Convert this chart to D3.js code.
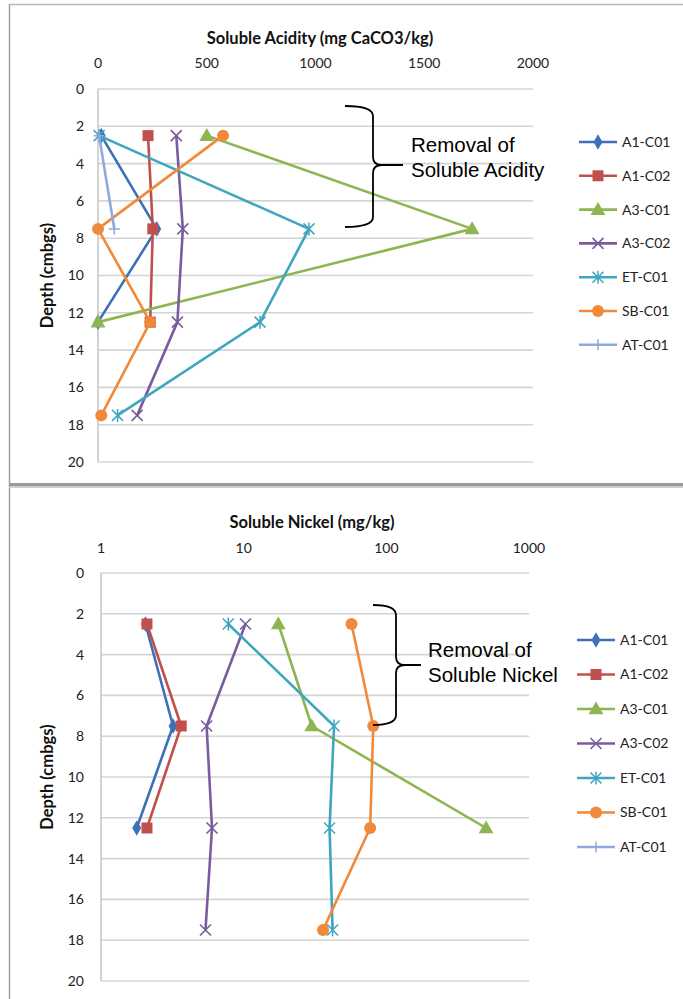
<!DOCTYPE html>
<html><head><meta charset="utf-8">
<script src="https://cdn.jsdelivr.net/npm/d3@7"></script>
<style>body{margin:0;background:#fff}svg{display:block}</style>
</head><body>
<svg id="c" width="683" height="999"></svg>
<script>
// ---- data ----
const seriesNames = ["A1-C01","A1-C02","A3-C01","A3-C02","ET-C01","SB-C01","AT-C01"];
const depths = [2.5, 7.5, 12.5, 17.5];
// Soluble acidity (mg CaCO3/kg) per depth
const acidA1C01 = [15, 270, 0];
const acidA1C02 = [230, 252, 240];
const acidA3C01 = [500, 1720, 0];
const acidA3C02 = [360, 390, 365, 180];
const acidETC01 = [5, 970, 745, 90];
const acidSBC01 = [575, 0, 240, 15];
const acidATC01 = [5, 75];
// Soluble nickel (mg/kg) per depth
const niA1C01 = [2.05, 3.2, 1.78];
const niA1C02 = [2.1, 3.65, 2.1];
const niA3C01 = [17.5, 30, 500];
const niA3C02 = [10.3, 5.5, 6.0, 5.4];
const niETC01 = [7.8, 43, 40, 42];
const niSBC01 = [57, 81, 77, 36];
const niATC01 = [];
const acidTicks = [0, 500, 1000, 1500, 2000];
const nickelTicks = [1, 10, 100, 1000];
const depthTicks = [0,2,4,6,8,10,12,14,16,18,20];

const colors = ["#3D70B6","#C0504D","#8DB550","#7A5C9E","#3FA6C0","#F0893A","#8EAADB"];
const markers = ["diamond","square","triangle","x","star","circle","plus"];

const acidData = [acidA1C01,acidA1C02,acidA3C01,acidA3C02,acidETC01,acidSBC01,acidATC01];
const niData = [niA1C01,niA1C02,niA3C01,niA3C02,niETC01,niSBC01,niATC01];

const svg = d3.select("#c");
const FONT = "Lato, 'Open Sans', sans-serif";

// frame
svg.append("line").attr("x1",9.5).attr("x2",9.5).attr("y1",4).attr("y2",999).attr("stroke","#A0A0A0").attr("stroke-width",1.5);
svg.append("line").attr("x1",9).attr("x2",683).attr("y1",4.5).attr("y2",4.5).attr("stroke","#B8B8B8").attr("stroke-width",1.5);
svg.append("rect").attr("x",9).attr("y",483).attr("width",674).attr("height",3.5).attr("fill","#9A9A9A");
svg.append("line").attr("x1",9).attr("x2",683).attr("y1",487.5).attr("y2",487.5).attr("stroke","#D0D0D0").attr("stroke-width",1);

function marker(g, type, x, y, color){
  if(type==="diamond"){
    g.append("path").attr("d",d3.symbol(d3.symbolDiamond,70)()).attr("transform",`translate(${x},${y})`).attr("fill",color);
  } else if(type==="square"){
    g.append("rect").attr("x",x-5.5).attr("y",y-5.5).attr("width",11).attr("height",11).attr("fill",color);
  } else if(type==="triangle"){
    g.append("path").attr("d",d3.symbol(d3.symbolTriangle,95)()).attr("transform",`translate(${x},${y+1})`).attr("fill",color);
  } else if(type==="circle"){
    g.append("circle").attr("cx",x).attr("cy",y).attr("r",6).attr("fill",color);
  } else if(type==="x"){
    const s=5.5;
    g.append("path").attr("d",`M${x-s},${y-s}L${x+s},${y+s}M${x-s},${y+s}L${x+s},${y-s}`).attr("stroke",color).attr("stroke-width",1.6).attr("fill","none");
  } else if(type==="star"){
    const s=5.5;
    g.append("path").attr("d",`M${x-s},${y-s}L${x+s},${y+s}M${x-s},${y+s}L${x+s},${y-s}M${x},${y-s-1}L${x},${y+s+1}`).attr("stroke",color).attr("stroke-width",1.5).attr("fill","none");
  } else if(type==="plus"){
    const s=5.5;
    g.append("path").attr("d",`M${x-s},${y}L${x+s},${y}M${x},${y-s}L${x},${y+s}`).attr("stroke",color).attr("stroke-width",1.5).attr("fill","none");
  }
}

function panel(cfg){
  const g = svg.append("g");
  const y = d3.scaleLinear().domain([0,20]).range([cfg.y0, cfg.y1]);
  const x = cfg.x;
  // grid
  g.selectAll(".grid").data(depthTicks).join("line")
    .attr("x1",x.range()[0]).attr("x2",x.range()[1])
    .attr("y1",d=>y(d)).attr("y2",d=>y(d))
    .attr("stroke","#D4D4D4").attr("stroke-width",1.6);
  g.append("line").attr("x1",x.range()[0]).attr("x2",x.range()[0]).attr("y1",y(0)).attr("y2",y(20))
    .attr("stroke","#C8C8C8").attr("stroke-width",1.6);
  // y tick labels
  g.selectAll(".yl").data(depthTicks).join("text")
    .attr("x",84).attr("y",d=>y(d)).attr("dy","0.35em").attr("text-anchor","end")
    .attr("font-family",FONT).attr("font-size",14).attr("fill","#222").text(d=>d);
  // x tick labels (top)
  g.selectAll(".xl").data(cfg.ticks).join("text")
    .attr("x",d=>x(d)).attr("y",cfg.tickY).attr("dy","0.35em").attr("text-anchor","middle")
    .attr("font-family",FONT).attr("font-size",14).attr("fill","#222").text(d=>d);
  // titles
  g.append("text").attr("x",cfg.titleX).attr("y",cfg.titleY).attr("dy","0.35em").attr("text-anchor","middle")
    .attr("font-family",FONT).attr("font-weight","bold").attr("font-size",16.5).attr("fill","#111").text(cfg.title);
  g.append("text").attr("transform",`translate(47,${(y(0)+y(20))/2}) rotate(-90)`).attr("dy","0.35em").attr("text-anchor","middle")
    .attr("font-family",FONT).attr("font-weight","bold").attr("font-size",16.5).attr("fill","#111").text("Depth (cmbgs)");
  // series
  cfg.data.forEach((vals,i)=>{
    if(!vals.length) return;
    const pts = vals.map((v,j)=>[x(cfg.clamp? Math.max(v,1):v), y(depths[j])]);
    const sg = g.append("g");
    sg.append("path").attr("d",d3.line()(pts)).attr("fill","none").attr("stroke",colors[i]).attr("stroke-width",2.6).attr("stroke-linejoin","round");
    pts.forEach(p=>marker(sg, markers[i], p[0], p[1], colors[i]));
  });
  // legend
  seriesNames.forEach((n,i)=>{
    const ly = cfg.legY + i*cfg.legStep;
    const lg = g.append("g");
    lg.append("line").attr("x1",cfg.legX).attr("x2",cfg.legX+38).attr("y1",ly).attr("y2",ly).attr("stroke",colors[i]).attr("stroke-width",2.6);
    marker(lg, markers[i], cfg.legX+19, ly, colors[i]);
    lg.append("text").attr("x",cfg.legX+43).attr("y",ly).attr("dy","0.35em")
      .attr("font-family",FONT).attr("font-size",14).attr("fill","#222").text(n);
  });
  // brace + note
  const b = cfg.brace;
  g.append("path").attr("d",
    `M${b.x0},${b.top} Q${b.xv},${b.top} ${b.xv},${b.top+10} L${b.xv},${b.mid-8} Q${b.xv},${b.mid} ${b.xv+9},${b.mid} L${b.xs},${b.mid} M${b.xv+9},${b.mid} Q${b.xv},${b.mid} ${b.xv},${b.mid+8} L${b.xv},${b.bot-10} Q${b.xv},${b.bot} ${b.x0},${b.bot}`)
    .attr("fill","none").attr("stroke","#000").attr("stroke-width",1.8);
  cfg.note.forEach((t,k)=>{
    g.append("text").attr("x",b.tx).attr("y",b.ty + k*25).attr("font-family","'Liberation Sans', Arial, sans-serif")
      .attr("font-size",20.5).attr("fill","#000").text(t);
  });
}

panel({
  x: d3.scaleLinear().domain([0,2000]).range([98,533]),
  y0: 89, y1: 462, ticks: acidTicks, tickY: 63,
  title: "Soluble Acidity (mg CaCO3/kg)", titleX: 320, titleY: 38,
  data: acidData,
  legX: 579, legY: 142, legStep: 33.8,
  brace: {x0:345, xv:373, xs:403, top:106, mid:165, bot:227, tx:411, ty:152},
  note: ["Removal of","Soluble Acidity"]
});
panel({
  x: d3.scaleLog().domain([1,1000]).range([101,529]),
  y0: 573, y1: 981, ticks: nickelTicks, tickY: 548, clamp: true,
  title: "Soluble Nickel (mg/kg)", titleX: 312, titleY: 522,
  data: niData,
  legX: 577, legY: 640, legStep: 34.5,
  brace: {x0:373, xv:396, xs:421, top:605, mid:665, bot:725, tx:428, ty:657},
  note: ["Removal of","Soluble Nickel"]
});
</script>
</body></html>
